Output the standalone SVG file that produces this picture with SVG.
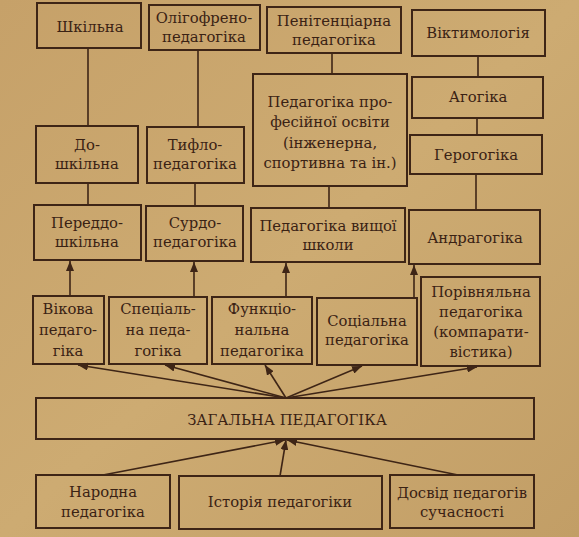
<svg xmlns="http://www.w3.org/2000/svg" width="579" height="537" viewBox="0 0 579 537">
<defs>
<linearGradient id="bg" x1="0" y1="0" x2="1" y2="1">
<stop offset="0" stop-color="#c6a169"/>
<stop offset="0.5" stop-color="#cdab72"/>
<stop offset="1" stop-color="#c29e66"/>
</linearGradient>
<marker id="ah" viewBox="0 0 10 8" refX="10" refY="4" markerWidth="10" markerHeight="8" markerUnits="userSpaceOnUse" orient="auto">
<path d="M0,0 L10,4 L0,8 Z" fill="#3e2516"/>
</marker>
</defs>
<style>
.b{fill:none;stroke:#3e2516;stroke-width:2}
.c line{stroke:#3e2516;stroke-width:1.6}
.c .a{marker-end:url(#ah)}
text{font-family:"DejaVu Serif","Liberation Serif",serif;font-size:14.8px;fill:#3a2214;text-anchor:middle}
</style>
<rect width="579" height="537" fill="url(#bg)"/>
<g class="c" id="connectors">
<line x1="88" y1="48" x2="88" y2="126"/>
<line x1="198" y1="50" x2="198" y2="127"/>
<line x1="332" y1="53" x2="332" y2="74"/>
<line x1="478" y1="56" x2="478" y2="77"/>
<line x1="477" y1="118" x2="477" y2="135"/>
<line x1="476" y1="174" x2="476" y2="210"/>
<line x1="88" y1="183" x2="88" y2="205"/>
<line x1="195" y1="183" x2="195" y2="206"/>
<line x1="329" y1="186" x2="329" y2="208"/>
<line class="a" x1="70" y1="296" x2="70" y2="261"/>
<line class="a" x1="194" y1="297" x2="194" y2="262"/>
<line class="a" x1="286" y1="297" x2="286" y2="263"/>
<line class="a" x1="414" y1="298" x2="414" y2="265"/>
<line class="a" x1="286" y1="398" x2="78" y2="365"/>
<line class="a" x1="286" y1="398" x2="165" y2="365"/>
<line class="a" x1="286" y1="398" x2="265" y2="365"/>
<line class="a" x1="286" y1="398" x2="362" y2="366"/>
<line class="a" x1="286" y1="398" x2="477" y2="367"/>
<line class="a" x1="103" y1="475" x2="285" y2="440"/>
<line class="a" x1="280" y1="476" x2="286" y2="440"/>
<line class="a" x1="458" y1="475" x2="287" y2="440"/>
</g>
<g id="shkilna"><rect class="b" x="37" y="3" width="104" height="45"/><text x="90" y="32">Шкільна</text></g>
<g id="oligofreno"><rect class="b" x="149" y="5" width="111" height="45"/><text x="204" y="23">Олігофрено-</text><text x="204" y="42">педагогіка</text></g>
<g id="penitentsiarna"><rect class="b" x="267" y="7" width="134" height="46"/><text x="334" y="26">Пенітенціарна</text><text x="334" y="45">педагогіка</text></g>
<g id="viktymolohiia"><rect class="b" x="412" y="10" width="133" height="46"/><text x="478" y="38">Віктимологія</text></g>
<g id="doshkilna"><rect class="b" x="36" y="126" width="102" height="57"/><text x="87" y="150">До-</text><text x="87" y="169">шкільна</text></g>
<g id="tyflo"><rect class="b" x="147" y="127" width="97" height="56"/><text x="195" y="150">Тифло-</text><text x="195" y="169">педагогіка</text></g>
<g id="profesiina"><rect class="b" x="253" y="74" width="154" height="112"/><text x="330" y="107">Педагогіка про-</text><text x="330" y="127">фесійної освіти</text><text x="330" y="148">(інженерна,</text><text x="330" y="168">спортивна та ін.)</text></g>
<g id="ahohika"><rect class="b" x="412" y="77" width="131" height="41"/><text x="478" y="102">Агогіка</text></g>
<g id="herohohika"><rect class="b" x="410" y="135" width="132" height="39"/><text x="476" y="160">Герогогіка</text></g>
<g id="pereddoshkilna"><rect class="b" x="34" y="205" width="107" height="55"/><text x="87" y="228">Переддо-</text><text x="87" y="247">шкільна</text></g>
<g id="surdo"><rect class="b" x="146" y="206" width="97" height="55"/><text x="195" y="228">Сурдо-</text><text x="195" y="247">педагогіка</text></g>
<g id="vyshchoi"><rect class="b" x="251" y="208" width="154" height="54"/><text x="328" y="231">Педагогіка вищої</text><text x="328" y="250">школи</text></g>
<g id="andrahohika"><rect class="b" x="409" y="210" width="131" height="54"/><text x="475" y="243">Андрагогіка</text></g>
<g id="vikova"><rect class="b" x="33" y="296" width="71" height="68"/><text x="68" y="314">Вікова</text><text x="68" y="335">педаго-</text><text x="68" y="356">гіка</text></g>
<g id="spetsialna"><rect class="b" x="109" y="297" width="98" height="67"/><text x="158" y="314">Спеціаль-</text><text x="158" y="335">на педа-</text><text x="158" y="356">гогіка</text></g>
<g id="funktsionalna"><rect class="b" x="212" y="297" width="100" height="67"/><text x="262" y="314">Функціо-</text><text x="262" y="335">нальна</text><text x="262" y="356">педагогіка</text></g>
<g id="sotsialna"><rect class="b" x="317" y="298" width="100" height="67"/><text x="367" y="326">Соціальна</text><text x="367" y="345">педагогіка</text></g>
<g id="porivnialna"><rect class="b" x="421" y="277" width="119" height="89"/><text x="481" y="297">Порівняльна</text><text x="481" y="317">педагогіка</text><text x="481" y="337">(компарати-</text><text x="481" y="357">вістика)</text></g>
<g id="zahalna"><rect class="b" x="36" y="398" width="498" height="41"/><text x="287" y="425">ЗАГАЛЬНА ПЕДАГОГІКА</text></g>
<g id="narodna"><rect class="b" x="36" y="475" width="134" height="53"/><text x="103" y="497">Народна</text><text x="103" y="517">педагогіка</text></g>
<g id="istoriia"><rect class="b" x="179" y="476" width="203" height="53"/><text x="280" y="507">Історія педагогіки</text></g>
<g id="dosvid"><rect class="b" x="390" y="475" width="144" height="53"/><text x="462" y="498">Досвід педагогів</text><text x="462" y="517">сучасності</text></g>
</svg>
